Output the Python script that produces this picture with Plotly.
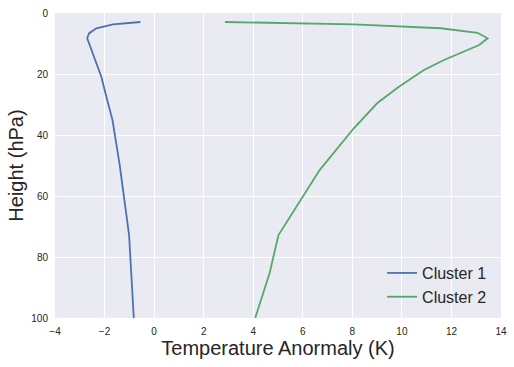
import plotly.graph_objects as go

# Cluster 1 profile
c1_temp = [-0.55, -1.66, -2.33, -2.63, -2.70, -2.63, -2.40, -2.13, -1.93, -1.68, -1.39, -1.01, -0.82]
c1_pres = [2.95, 3.7, 5.0, 6.7, 8.3, 9.9, 14.9, 20.9, 27.4, 35.1, 49.8, 72.8, 100]

# Cluster 2 profile
c2_temp = [2.86, 8.06, 11.57, 13.05, 13.46, 13.12, 11.70, 10.89, 9.88, 9.00, 8.06, 7.36, 6.68, 5.02, 4.66, 4.08]
c2_pres = [2.95, 3.7, 5.0, 6.5, 8.3, 10.5, 15.4, 18.7, 24.2, 29.6, 37.8, 44.9, 51.5, 72.8, 85.3, 100]

x_ticks = [-4, -2, 0, 2, 4, 6, 8, 10, 12, 14]
y_ticks = [0, 20, 40, 60, 80, 100]

font_family = "Liberation Sans, Arial, sans-serif"
text_color = "#262626"

fig = go.Figure()
fig.add_trace(go.Scatter(x=c1_temp, y=c1_pres, mode="lines", name="Cluster 1",
                         line=dict(color="#4C72B0", width=1.8)))
fig.add_trace(go.Scatter(x=c2_temp, y=c2_pres, mode="lines", name="Cluster 2",
                         line=dict(color="#55A868", width=1.8)))

fig.update_layout(
    width=514, height=367,
    margin=dict(l=55, r=13, t=13, b=49),
    paper_bgcolor="white",
    plot_bgcolor="#EAEAF2",
    font=dict(family=font_family, color=text_color),
    showlegend=True,
    legend=dict(x=0.98, xanchor="right", y=0.013, yanchor="bottom",
                bgcolor="rgba(0,0,0,0)", font=dict(size=16, color=text_color),
                itemwidth=30, tracegroupgap=0),
    xaxis=dict(range=[-4, 14], tickvals=x_ticks, ticks="", showline=False,
               gridcolor="white", gridwidth=1, zeroline=False, automargin=False,
               ticklabelstandoff=6,
               tickfont=dict(size=10, color=text_color),
               title=dict(text="Temperature Anormaly (K)", font=dict(size=20, color=text_color), standoff=3)),
    yaxis=dict(range=[100, 0], tickvals=y_ticks, ticks="", showline=False,
               gridcolor="white", gridwidth=1, zeroline=False, automargin=False,
               ticklabelstandoff=6,
               tickfont=dict(size=10, color=text_color),
               title=dict(text="Height (hPa)", font=dict(size=20, color=text_color), standoff=2)),
)

fig.write_html("out.html", config={"displayModeBar": False},
               post_script="document.body.style.margin='0';document.body.style.overflow='hidden';")
